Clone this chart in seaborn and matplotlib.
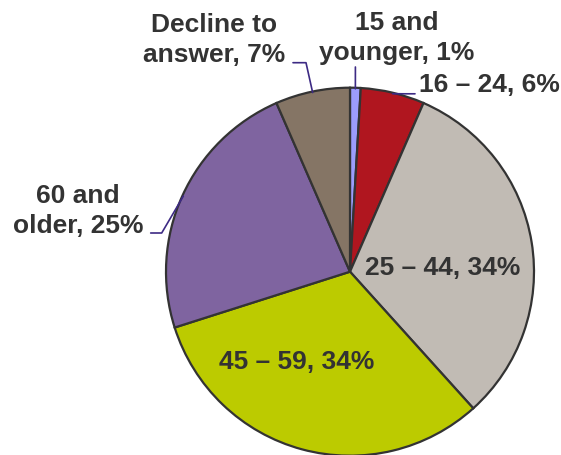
import numpy as np
import matplotlib
matplotlib.use("Agg")
import matplotlib.pyplot as plt
import seaborn as sns

# Age groups of respondents (percent)
categories = ["15 and\nyounger", "16 – 24", "25 – 44", "45 – 59", "60 and\nolder", "Decline to\nanswer"]
shares = [1, 6, 34, 34, 25, 7]
slice_colors = ["#9C9CFC", "#B0161F", "#C1BBB4", "#BCCB00", "#7F64A0", "#857565"]

sns.set_theme(style="white")
plt.rcParams["font.family"] = ["Liberation Sans", "DejaVu Sans"]

W, H = 561, 456
fig = plt.figure(figsize=(W / 100, H / 100), dpi=100)
ax = fig.add_axes([0, 0, 1, 1])

cx, cy, R = 350, H - 272.7, 184
palette = sns.color_palette(slice_colors)
wedges, _ = ax.pie(
    shares, colors=palette, startangle=90, counterclock=False,
    center=(cx, cy), radius=R, frame=True,
    wedgeprops=dict(edgecolor="#333333", linewidth=1.6),
)
ax.set_xlim(0, W)
ax.set_ylim(0, H)
ax.set_aspect("equal")
ax.axis("off")

labels = [f"{c}, {v}%" for c, v in zip(categories, shares)]
text_kw = dict(fontsize=19, fontweight="bold", color="#333333",
               ha="center", va="center", multialignment="center", linespacing=1.3)
leader_kw = dict(color="#3D2A84", linewidth=1.2)


def edge_point(w, r=R):
    mid = np.deg2rad((w.theta1 + w.theta2) / 2)
    return cx + r * np.cos(mid), cy + r * np.sin(mid)


# label anchor positions (pixel coordinates from the top-left)
label_pos = [(397, 38), (489, 85), (443, 268), (297, 362), (78, 211), (214, 40)]
for lab, (px, py) in zip(labels, label_pos):
    ax.text(px, H - py, lab, **text_kw)

# leader lines for the outside labels
def leader(points, w):
    ex, ey = edge_point(w, R - 1)
    xs = [p[0] for p in points] + [ex]
    ys = [H - p[1] for p in points] + [ey]
    ax.plot(xs, ys, **leader_kw)

ex0, _ = edge_point(wedges[0])
leader([(ex0, 68)], wedges[0])
leader([(415, 94.8), (404, 94.8)], wedges[1])
leader([(150.7, 234), (161.7, 234)], wedges[4])
leader([(293, 63.7), (306, 63.7)], wedges[5])

fig.savefig("out.png", dpi=100, facecolor="white")
